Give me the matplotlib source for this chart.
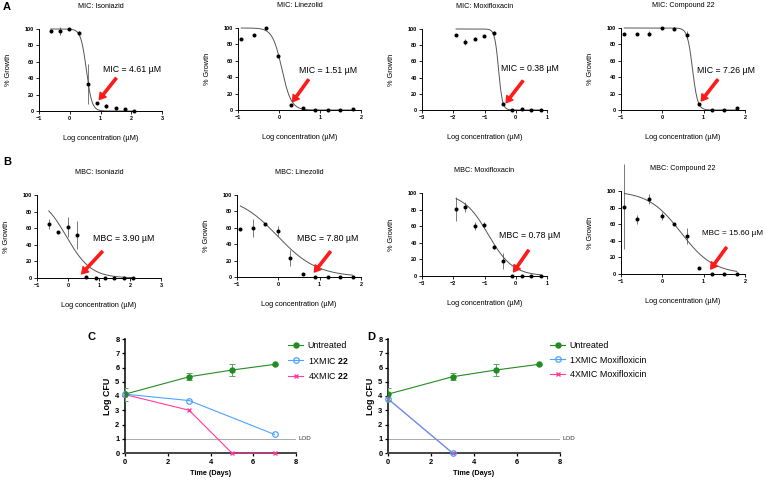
import numpy as np
import matplotlib
matplotlib.use('Agg')
import matplotlib.pyplot as plt

plt.rcParams['font.family'] = ['Liberation Sans', 'DejaVu Sans']
plt.rcParams['mathtext.fontset'] = 'custom'
plt.rcParams['mathtext.rm'] = 'Liberation Sans'
plt.rcParams['mathtext.bf'] = 'Liberation Sans:bold'

# log10 concentrations (uM) for each drug
log_conc_inh = [-0.62, -0.31, -0.01, 0.29, 0.59, 0.89, 1.19, 1.49, 1.80, 2.10]
log_conc_lzd = [-0.92, -0.62, -0.32, -0.02, 0.29, 0.59, 0.89, 1.19, 1.49, 1.80]
log_conc_mxf = [-1.91, -1.61, -1.31, -1.01, -0.71, -0.41, -0.11, 0.19, 0.49, 0.80]
log_conc_c22 = [-0.92, -0.62, -0.32, -0.02, 0.29, 0.59, 0.89, 1.19, 1.49, 1.80]

# MIC % growth (mean, sd)
mic_inh = [97, 98, 100, 95, 33, 10, 6, 4, 2, 0]
mic_inh_err = [2, 5, 0, 2, 24, 0, 2, 1, 0, 0]
mic_lzd = [87, 92, 100, 66, 6, 2, 0, 0, 0, 1]
mic_lzd_err = [0, 0, 0, 0, 0, 0, 0, 0, 0, 0]
mic_mxf = [92, 84, 88, 91, 95, 7, 0, 1, 0, 0]
mic_mxf_err = [0, 4, 2, 0, 2, 0, 0, 0, 0, 0]
mic_c22 = [93, 93, 93, 100, 99, 91, 7, 0, 0, 2]
mic_c22_err = [0, 0, 3, 0, 2, 5, 2, 0, 0, 0]

# MBC % growth (mean, sd)
mbc_inh = [65, 56, 62, 52, 1, 0, 0, 0, 0, 0]
mbc_inh_err = [6, 0, 12, 17, 0, 0, 0, 0, 0, 0]
mbc_lzd = [58, 60, 65, 56, 23, 4, 0, 0, 0.4, 0.4]
mbc_lzd_err = [0, 11, 0, 6, 9.5, 1, 0, 0, 0, 0]
mbc_mxf = [81, 83, 60, 62, 35, 18, 0, 0, 0, 0]
mbc_mxf_err = [14.5, 6, 4.5, 3.5, 2.5, 9.5, 0, 0, 0, 0]
mbc_c22 = [81, 66, 90, 70, 60, 46, 7.6, 0, 0, 0]
mbc_c22_err = [51, 5.5, 6, 4.5, 0, 10, 0, 0, 0, 0]

# dose-response fit parameters: top, bottom, logIC50, hill
mic_fits = [(100, 0, 0.54, 4.8), (100, 0, 0.07, 3.8), (100, 0, -0.55, 7.0), (100, 0, 0.73, 7.0)]
mbc_fits = [(100, 0, -0.05, 1.1), (100, 0, -0.02, 0.9), (100, 0, -0.88, 1.1), (100, 0, 0.45, 1.1)]

drug_names = ['Isoniazid', 'Linezolid', 'Moxifloxacin', 'Compound 22']
mic_labels = ['MIC = 4.61 \u00b5M', 'MIC = 1.51 \u00b5M', 'MIC = 0.38 \u00b5M', 'MIC = 7.26 \u00b5M']
mbc_labels = ['MBC = 3.90 \u00b5M', 'MBC = 7.80 \u00b5M', 'MBC = 0.78 \u00b5M', 'MBC = 15.60 \u00b5M']

# time-kill (log CFU)
days = [0, 3, 5, 7]
untreated = [4.13, 5.35, 5.82, 6.22]
untreated_err = [0.45, 0.25, 0.45, 0.03]
days_c22_1x = [0, 3, 7]
c22_1x = [4.13, 3.68, 1.30]
days_c22_4x = [0, 3, 5, 7]
c22_4x = [4.10, 3.00, 0, 0]
days_mxf = [0, 3]
mxf_1x = [3.80, 0]
mxf_4x = [3.80, 0]
lod = 1

W, H = 766, 482
fig = plt.figure(figsize=(W / 100, H / 100), dpi=100)


def px_axes(x0, x1, y0, y1):
    return fig.add_axes([x0 / W, 1 - y1 / H, (x1 - x0) / W, (y1 - y0) / H])


def logistic(x, p):
    top, bottom, c, h = p
    return bottom + (top - bottom) / (1 + 10 ** ((x - c) * h))


mic_boxes = [(39, 162, 29, 111), (238, 361, 28, 110), (422, 547, 29, 110), (621, 745, 28, 110)]
mbc_boxes = [(37, 161, 195, 278), (237, 361, 195, 277), (422, 547, 193, 276), (621, 745, 191, 274)]
xlims = [(-1, 3), (-1, 2), (-3, 1), (-1, 2)]
concs = [log_conc_inh, log_conc_lzd, log_conc_mxf, log_conc_c22]
mic_vals = [(mic_inh, mic_inh_err), (mic_lzd, mic_lzd_err), (mic_mxf, mic_mxf_err), (mic_c22, mic_c22_err)]
mbc_vals = [(mbc_inh, mbc_inh_err), (mbc_lzd, mbc_lzd_err), (mbc_mxf, mbc_mxf_err), (mbc_c22, mbc_c22_err)]

# annotation spots: text left (x, y), arrow tail (x, y), arrow head (x, y), font size
mic_notes = [((1.09, 50), (1.51, 40), (0.96, 14), 6.3),
             ((0.49, 48), (0.72, 37), (0.33, 10), 6.3),
             ((-0.48, 51), (0.23, 36), (-0.31, 9), 6.3),
             ((0.84, 48), (1.34, 37), (0.94, 11), 6.3)]
mbc_notes = [((0.80, 48), (1.11, 32), (0.44, 5), 6.3),
             ((0.44, 47), (1.26, 31), (0.87, 6), 6.3),
             ((-0.55, 48.6), (0.41, 31), (-0.07, 5), 6.3),
             ((0.95, 49), (1.55, 32), (1.17, 6), 5.9)]


def dose_panel(box, xlim, x, y, err, fit, title, note, label):
    ax = px_axes(*box)
    ax.set_xlim(xlim)
    ax.set_ylim(0, 100)
    xs = np.linspace(x[0], x[-1], 300)
    ax.plot(xs, logistic(xs, fit), color='#555555', lw=0.7, clip_on=False)
    ax.errorbar(x, y, yerr=err, fmt='o', color='black', ms=2.9, mew=0, elinewidth=0.5,
                ecolor='#444444', capsize=1.6, capthick=0.5, clip_on=False)
    ax.set_xticks(range(xlim[0], xlim[1] + 1))
    ax.set_yticks(range(0, 101, 20))
    for s in ['top', 'right']:
        ax.spines[s].set_visible(False)
    for s in ['left', 'bottom']:
        ax.spines[s].set_linewidth(0.7)
    ax.tick_params(length=2.2, width=0.6, labelsize=4, pad=1.5)
    for t in ax.get_xticklabels() + ax.get_yticklabels():
        t.set_fontweight('bold')
    ax.set_title(title, fontsize=5.2, pad=15)
    ax.set_xlabel('Log concentration (\u00b5M)', fontsize=5.3, labelpad=10)
    ax.set_ylabel('% Growth', fontsize=5.3, labelpad=9)
    (tx, ty), tail, head, fs = note
    ax.text(tx, ty, label, fontsize=fs, va='center', ha='left', clip_on=False)
    ax.annotate('', xy=head, xytext=tail,
                arrowprops=dict(facecolor='#ff1a1a', edgecolor='#ff1a1a', width=1.6,
                                headwidth=5.5, headlength=4.5, shrink=0))
    return ax


for i in range(4):
    dose_panel(mic_boxes[i], xlims[i], concs[i], mic_vals[i][0], mic_vals[i][1], mic_fits[i],
               'MIC: ' + drug_names[i], mic_notes[i], mic_labels[i])
    dose_panel(mbc_boxes[i], xlims[i], concs[i], mbc_vals[i][0], mbc_vals[i][1], mbc_fits[i],
               'MBC: ' + drug_names[i], mbc_notes[i], mbc_labels[i])

green = '#238b23'
blue = '#4da3ff'
pink = '#ff3d9e'


def kill_panel(box):
    ax = px_axes(*box)
    ax.set_xlim(0, 8)
    ax.set_ylim(0, 8)
    ax.axhline(lod, color='#aaaaaa', lw=0.7, zorder=1)
    ax.text(8.12, lod, 'LOD', fontsize=4.5, va='center', color='#333333')
    for s in ['top', 'right']:
        ax.spines[s].set_visible(False)
    ax.spines['left'].set_linewidth(1.1)
    ax.spines['bottom'].set_linewidth(1.4)
    ax.spines['bottom'].set_color('#444444')
    ax.set_xticks([0, 2, 4, 6, 8])
    ax.set_yticks(range(0, 9))
    ax.tick_params(length=2.5, width=0.9, labelsize=5.4, pad=1.5)
    for t in ax.get_xticklabels() + ax.get_yticklabels():
        t.set_fontweight('bold')
    ax.set_xlabel('Time (Days)', fontsize=5.2, fontweight='bold', labelpad=3)
    ax.set_ylabel('Log CFU', fontsize=6.4, fontweight='bold', labelpad=2)
    return ax


def add_legend(ax, x_px):
    h, l = ax.get_legend_handles_labels()
    ax.legend(h[::-1], l[::-1], loc='upper left', bbox_to_anchor=(x_px / W, 1 - 341 / H),
              bbox_transform=fig.transFigure, frameon=False, fontsize=6.4, borderpad=0,
              borderaxespad=0, handlelength=1.7, handletextpad=0.5, labelspacing=0.62)


# C: compound 22
axc = kill_panel((125, 296, 339, 453))
axc.plot(days_c22_4x, c22_4x, color=pink, marker='x', ms=3.5, mew=1, lw=0.8,
         label=r'4XMIC $\mathbf{22}$', clip_on=False, zorder=3)
axc.plot(days_c22_1x, c22_1x, color=blue, marker='o', mfc='none', ms=4, mew=0.9, lw=0.8,
         label=r'1XMIC $\mathbf{22}$', clip_on=False, zorder=3)
axc.errorbar(days, untreated, yerr=untreated_err, color=green, ecolor='#5aa85a', elinewidth=0.7,
             capsize=2, capthick=0.7, fmt='none', zorder=4)
axc.plot(days, untreated, color=green, marker='o', ms=3.6, lw=0.8, label='Untreated', zorder=4)
add_legend(axc, 288)

# D: moxifloxacin
axd = kill_panel((388, 560, 339, 453))
axd.plot(days_mxf, mxf_4x, color=pink, marker='x', ms=3.5, mew=1, lw=0.8,
         label='4XMIC Moxifloxicin', clip_on=False, zorder=3)
axd.plot(days_mxf, mxf_1x, color=blue, marker='o', mfc='none', ms=4, mew=0.9, lw=0.8,
         label='1XMIC Moxifloxicin', clip_on=False, zorder=3)
axd.errorbar(days, untreated, yerr=untreated_err, color=green, ecolor='#5aa85a', elinewidth=0.7,
             capsize=2, capthick=0.7, fmt='none', zorder=4)
axd.plot(days, untreated, color=green, marker='o', ms=3.6, lw=0.8, label='Untreated', zorder=4)
add_legend(axd, 550)

# panel letters
for letter, x, y in [('A', 3, 7), ('B', 3, 162), ('C', 87, 337), ('D', 367, 337)]:
    fig.text(x / W, 1 - y / H, letter, fontsize=8, fontweight='bold', va='center', ha='left')

fig.savefig('out.png', dpi=100)
